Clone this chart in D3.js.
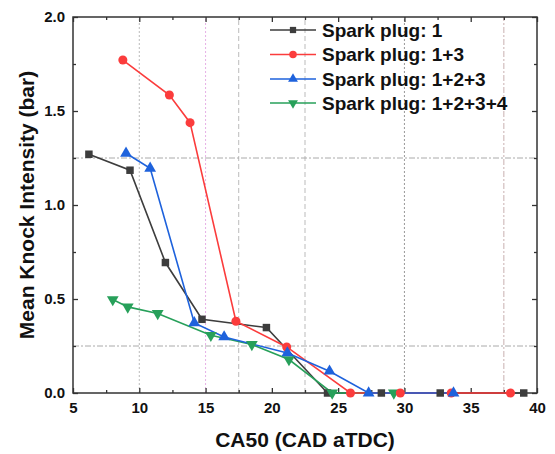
<!DOCTYPE html>
<html>
<head>
<meta charset="utf-8">
<script src="https://cdn.jsdelivr.net/npm/d3@7/dist/d3.min.js"></script>
<style>
  body { margin: 0; background: #fff; }
  svg { font-family: Arial, "Liberation Sans", sans-serif; }
  .tick-label { font-weight: bold; font-size: 15px; fill: #111; }
  .axis-title { font-weight: bold; font-size: 21px; fill: #111; }
  .legend-text { font-weight: bold; font-size: 19px; fill: #111; }
</style>
</head>
<body>
<div id="chart"></div>
<script>
// data
var seriesNames = ['Spark plug: 1', 'Spark plug: 1+3', 'Spark plug: 1+2+3', 'Spark plug: 1+2+3+4'];

var plug1X = [6.2, 9.3, 11.97, 14.73, 19.59, 24.2, 28.26, 32.7, 39.0];
var plug1Y = [1.27, 1.185, 0.694, 0.392, 0.348, 0, 0, 0, 0];

var plug13X = [8.76, 12.27, 13.83, 17.29, 21.12, 25.93, 29.69, 33.53, 38.0];
var plug13Y = [1.771, 1.585, 1.438, 0.382, 0.245, 0, 0, 0, 0];

var plug123X = [9.0, 10.82, 14.15, 16.4, 21.17, 24.35, 27.3, 33.7];
var plug123Y = [1.275, 1.195, 0.373, 0.298, 0.213, 0.116, 0, 0];

var plug1234X = [8.0, 9.13, 11.39, 15.4, 18.49, 21.29, 24.55, 29.2];
var plug1234Y = [0.497, 0.458, 0.423, 0.307, 0.258, 0.178, 0, 0];

var xTicks = [5, 10, 15, 20, 25, 30, 35, 40];
var yTicks = [0, 0.5, 1.0, 1.5, 2.0];

var width = 555, height = 454;
var margin = {top: 17, right: 18, bottom: 61, left: 73};

var svg = d3.select('#chart').append('svg')
  .attr('width', width)
  .attr('height', height);

var x = d3.scaleLinear().domain([5, 40]).range([margin.left, width - margin.right]);
var y = d3.scaleLinear().domain([0, 2]).range([height - margin.bottom, margin.top]);

//gridlines, odd mix of styles like the original
var vGrid = [
  {v: 10, color: '#bbb', dash: '2,2'},
  {v: 15, color: '#e6b0e6', dash: '2,2'},
  {v: 17.5, color: '#bbb', dash: '5,3'},
  {v: 22.5, color: '#bbb', dash: '5,3'},
  {v: 30, color: '#999', dash: '2,2'},
  {v: 37.5, color: '#c8b0b0', dash: '6,2,2,2'}
];
var hGrid = [0.25, 1.25];

svg.append('g').selectAll('line')
  .data(vGrid)
  .enter()
  .append('line')
  .attr('x1', function(d){ return x(d.v); })
  .attr('x2', function(d){ return x(d.v); })
  .attr('y1', y(0))
  .attr('y2', y(2))
  .attr('stroke', function(d){ return d.color; })
  .attr('stroke-dasharray', function(d){ return d.dash; })
  .attr('stroke-width', 1);

svg.append('g').selectAll('line')
  .data(hGrid)
  .enter()
  .append('line')
  .attr('x1', x(5))
  .attr('x2', x(40))
  .attr('y1', function(d){ return y(d); })
  .attr('y2', function(d){ return y(d); })
  .attr('stroke', '#aaa')
  .attr('stroke-dasharray', '6,2,2,2')
  .attr('stroke-width', 1);

//axes (ticks inward, mirrored on top and right)
var xMinor = d3.range(7.5, 40, 5);
var yMinor = d3.range(0.25, 2, 0.5);

function styleAxis(g){
  g.select('.domain').remove();
  g.selectAll('line').attr('stroke', '#333').attr('stroke-width', 1.3);
}

svg.append('g')
  .attr('transform', 'translate(0,' + y(0) + ')')
  .call(d3.axisBottom(x).tickValues(xTicks).tickSize(-5).tickPadding(9).tickFormat(d3.format('d')))
  .call(styleAxis)
  .selectAll('text').attr('class', 'tick-label');

svg.append('g')
  .attr('transform', 'translate(0,' + y(0) + ')')
  .call(d3.axisBottom(x).tickValues(xMinor).tickSize(-3).tickFormat(''))
  .call(styleAxis);

svg.append('g')
  .attr('transform', 'translate(0,' + y(2) + ')')
  .call(d3.axisTop(x).tickValues(xTicks).tickSize(-5).tickFormat(''))
  .call(styleAxis);

svg.append('g')
  .attr('transform', 'translate(0,' + y(2) + ')')
  .call(d3.axisTop(x).tickValues(xMinor).tickSize(-3).tickFormat(''))
  .call(styleAxis);

svg.append('g')
  .attr('transform', 'translate(' + x(5) + ',0)')
  .call(d3.axisLeft(y).tickValues(yTicks).tickSize(-5).tickPadding(8).tickFormat(d3.format('.1f')))
  .call(styleAxis)
  .selectAll('text').attr('class', 'tick-label');

svg.append('g')
  .attr('transform', 'translate(' + x(5) + ',0)')
  .call(d3.axisLeft(y).tickValues(yMinor).tickSize(-3).tickFormat(''))
  .call(styleAxis);

svg.append('g')
  .attr('transform', 'translate(' + x(40) + ',0)')
  .call(d3.axisRight(y).tickValues(yTicks).tickSize(-5).tickFormat(''))
  .call(styleAxis);

svg.append('g')
  .attr('transform', 'translate(' + x(40) + ',0)')
  .call(d3.axisRight(y).tickValues(yMinor).tickSize(-3).tickFormat(''))
  .call(styleAxis);

//frame
svg.append('rect')
  .attr('x', x(5))
  .attr('y', y(2))
  .attr('width', x(40) - x(5))
  .attr('height', y(0) - y(2))
  .attr('fill', 'none')
  .attr('stroke', '#333')
  .attr('stroke-width', 1.5);

//axis titles
svg.append('text')
  .attr('class', 'axis-title')
  .attr('text-anchor', 'middle')
  .attr('x', (x(5) + x(40)) / 2)
  .attr('y', 447)
  .text('CA50 (CAD aTDC)');

svg.append('text')
  .attr('class', 'axis-title')
  .attr('text-anchor', 'middle')
  .attr('transform', 'translate(34,' + ((y(0) + y(2)) / 2) + ') rotate(-90)')
  .text('Mean Knock Intensity (bar)');

//series
var series = [
  {name: seriesNames[0], xs: plug1X, ys: plug1Y, color: '#3d3d3d', symbol: d3.symbolSquare, rot: 0, size: 56},
  {name: seriesNames[1], xs: plug13X, ys: plug13Y, color: '#fb3c3c', symbol: d3.symbolCircle, rot: 0, size: 64},
  {name: seriesNames[2], xs: plug123X, ys: plug123Y, color: '#1e62dc', symbol: d3.symbolTriangle, rot: 0, size: 60},
  {name: seriesNames[3], xs: plug1234X, ys: plug1234Y, color: '#27a05a', symbol: d3.symbolTriangle, rot: 180, size: 60}
];

var line = d3.line()
  .x(function(d){ return x(d[0]); })
  .y(function(d){ return y(d[1]); });

series.forEach(function(s){
  s.points = s.xs.map(function(v, i){ return [v, s.ys[i]]; });
});

var drawOrder = [series[0], series[3], series[1], series[2]];

drawOrder.forEach(function(s){
  svg.append('path')
    .datum(s.points)
    .attr('d', line)
    .attr('fill', 'none')
    .attr('stroke', s.color)
    .attr('stroke-width', 1.6);
});

drawOrder.forEach(function(s){
  svg.append('g').selectAll('path')
    .data(s.points)
    .enter()
    .append('path')
    .attr('d', d3.symbol().type(s.symbol).size(s.size))
    .attr('transform', function(d){
      return 'translate(' + x(d[0]) + ',' + y(d[1]) + ') rotate(' + s.rot + ')';
    })
    .attr('fill', s.color);
});

//legend
var legend = svg.append('g');
var rowY = [30, 54.5, 79, 103];

series.forEach(function(s, i){
  var g = legend.append('g').attr('transform', 'translate(0,' + rowY[i] + ')');
  g.append('line')
    .attr('x1', 270)
    .attr('x2', 316)
    .attr('stroke', s.color)
    .attr('stroke-width', 1.6);
  g.append('path')
    .attr('d', d3.symbol().type(s.symbol).size(s.size * 0.7))
    .attr('transform', 'translate(293,0) rotate(' + s.rot + ')')
    .attr('fill', s.color);
  g.append('text')
    .attr('class', 'legend-text')
    .attr('x', 322)
    .attr('dy', '0.36em')
    .text(s.name);
});
</script>
</body>
</html>
